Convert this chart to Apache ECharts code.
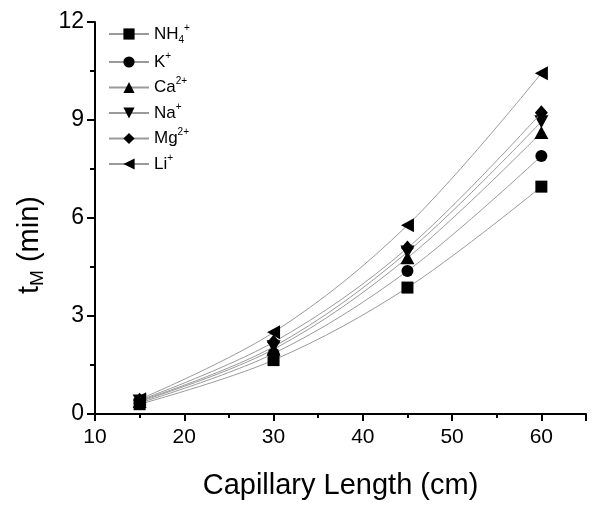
<!DOCTYPE html>
<html><head><meta charset="utf-8">
<script src="https://cdn.jsdelivr.net/npm/echarts@6/dist/echarts.min.js"></script>
<style>html,body{margin:0;padding:0;background:#fff}#c{width:600px;height:505px}</style>
</head><body><div id="c"></div>
<script>
const lengths = [15, 30, 45, 60];
const ionNames = ['NH4+', 'K+', 'Ca2+', 'Na+', 'Mg2+', 'Li+'];
const ionLabels = ['{n|NH}{sub|4}{sup|+}', '{n|K}{sup|+}', '{n|Ca}{sup|2+}', '{n|Na}{sup|+}', '{n|Mg}{sup|2+}', '{n|Li}{sup|+}'];
const nh4 = [0.30, 1.65, 3.87, 6.96];
const k = [0.34, 1.85, 4.38, 7.90];
const ca = [0.38, 1.98, 4.78, 8.62];
const na = [0.40, 2.06, 4.96, 8.95];
const mg = [0.42, 2.20, 5.08, 9.22];
const li = [0.45, 2.50, 5.78, 10.43];
const xTicks = [10, 20, 30, 40, 50, 60];
const yTicks = [0, 3, 6, 9, 12];

const values = [nh4, k, ca, na, mg, li];
const symbols = ['rect', 'circle', 'triangle', 'path://M0,0 L10,0 L5,9 Z', 'diamond', 'path://M9,0 L0,5 L9,10 Z'];
const symbolSizes = [12, 12, [14, 13], [14, 13], [13, 15], [13, 14]];
const FONT = '"Liberation Sans", Arial, sans-serif';

const chart = echarts.init(document.getElementById('c'), null, {renderer: 'canvas'});
const series = ionNames.map((name, i) => ({
  name: name,
  type: 'line',
  smooth: 0.35,
  data: lengths.map((x, j) => [x, values[i][j]]),
  symbol: symbols[i],
  symbolSize: symbolSizes[i],
  showAllSymbol: true,
  itemStyle: {color: '#000'},
  lineStyle: {color: '#9a9a9a', width: 1},
  emphasis: {disabled: true},
  z: 2 + i
}));

chart.setOption({
  animation: false,
  backgroundColor: '#fff',
  grid: {left: 95, right: 14, top: 22, bottom: 90, containLabel: false},
  legend: {
    orient: 'vertical',
    left: 103,
    top: 18,
    itemWidth: 40,
    itemHeight: 14,
    itemGap: 6,
    data: ionNames,
    formatter: name => ionLabels[ionNames.indexOf(name)],
    textStyle: {
      color: '#000',
      fontFamily: FONT,
      rich: {
        n: {fontSize: 17, lineHeight: 22, color: '#000', fontFamily: FONT},
        sup: {fontSize: 10, lineHeight: 12, verticalAlign: 'top', color: '#000', fontFamily: FONT},
        sub: {fontSize: 10, lineHeight: 12, verticalAlign: 'bottom', color: '#000', fontFamily: FONT}
      }
    }
  },
  xAxis: {
    type: 'value',
    min: 10, max: 65, interval: 10,
    name: 'Capillary Length (cm)',
    nameLocation: 'middle',
    nameGap: 57,
    nameTextStyle: {fontSize: 29, color: '#000', fontFamily: FONT},
    axisLine: {lineStyle: {color: '#000', width: 2}},
    axisTick: {show: true, length: 7, lineStyle: {color: '#000', width: 2}},
    minorTick: {show: true, splitNumber: 2, length: 4, lineStyle: {color: '#000', width: 2}},
    axisLabel: {fontSize: 21, color: '#000', fontFamily: FONT, margin: 13, showMaxLabel: false,
      formatter: v => xTicks.includes(v) ? String(v) : ''},
    splitLine: {show: false}
  },
  yAxis: {
    type: 'value',
    min: 0, max: 12, interval: 3,
    name: '{t|t}{s|M}{t| (min)}',
    nameLocation: 'middle',
    nameGap: 48,
    nameTextStyle: {
      color: '#000', fontFamily: FONT, padding: [0, 54, 0, 0],
      rich: {
        t: {fontSize: 29, lineHeight: 34, color: '#000', fontFamily: FONT},
        s: {fontSize: 19, lineHeight: 19, verticalAlign: 'bottom', color: '#000', fontFamily: FONT}
      }
    },
    axisLine: {lineStyle: {color: '#000', width: 2}},
    axisTick: {show: true, length: 8, lineStyle: {color: '#000', width: 2}},
    minorTick: {show: true, splitNumber: 2, length: 5, lineStyle: {color: '#000', width: 2}},
    axisLabel: {fontSize: 23, color: '#000', fontFamily: FONT, margin: 11,
      formatter: v => yTicks.includes(v) ? String(v) : ''},
    splitLine: {show: false}
  },
  series: series
});
</script>
</body></html>
